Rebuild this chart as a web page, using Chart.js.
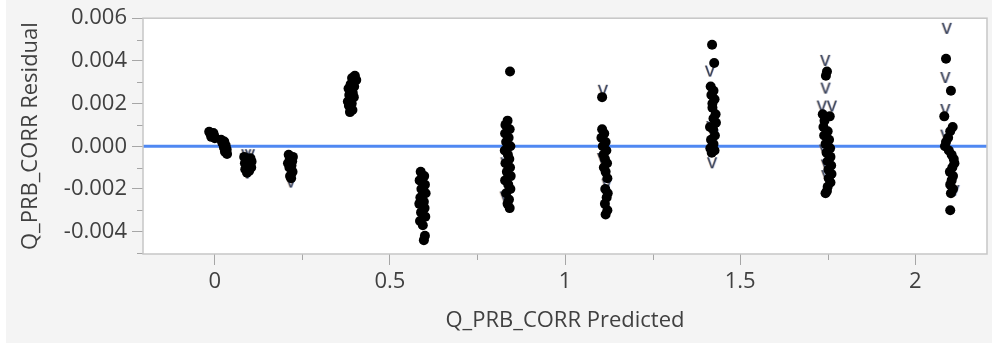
<!DOCTYPE html>
<html>
<head>
<meta charset="utf-8">
<title>Q_PRB_CORR Residual by Predicted</title>
<script src="https://cdn.jsdelivr.net/npm/chart.js@4.4.1/dist/chart.umd.min.js"></script>
<style>
  html, body { margin: 0; padding: 0; background: #ffffff; }
  #wrap { width: 992px; height: 347px; }
</style>
</head>
<body>
<div id="wrap"><canvas id="residualChart" width="992" height="347"></canvas></div>
<script>
// Predicted value / residual pairs, one line per fitted group
const predicted = [
  -0.016, -0.004, -0.012, -0.002, -0.010, 0.000,
  0.018, 0.027, 0.022, 0.031, 0.026, 0.034, 0.029, 0.035,
  0.084, 0.102, 0.090, 0.105, 0.086, 0.099, 0.093, 0.104, 0.087, 0.098, 0.092,
  0.211, 0.223, 0.214, 0.221, 0.209, 0.219, 0.213, 0.222, 0.215, 0.218,
  0.400, 0.392, 0.404, 0.388, 0.398, 0.382, 0.394, 0.384, 0.397, 0.380, 0.391, 0.383, 0.393, 0.386,
  0.588, 0.598, 0.585, 0.600, 0.590, 0.602, 0.587, 0.597, 0.584, 0.599, 0.589, 0.601, 0.586, 0.594, 0.600, 0.597,
  0.843, 0.836, 0.830, 0.842, 0.829, 0.839, 0.832, 0.844, 0.828, 0.837, 0.841, 0.830, 0.843, 0.834, 0.845, 0.829, 0.838, 0.844, 0.832, 0.840, 0.836, 0.842,
  1.106, 1.106, 1.112, 1.104, 1.116, 1.108, 1.118, 1.110, 1.114, 1.120, 1.111, 1.116, 1.121, 1.115, 1.122, 1.119, 1.114, 1.121, 1.116,
  1.420, 1.426, 1.416, 1.424, 1.418, 1.427, 1.421, 1.430, 1.424, 1.431, 1.423, 1.428, 1.417, 1.424, 1.415, 1.427, 1.419, 1.421, 1.414,
  1.748, 1.745, 1.736, 1.756, 1.738, 1.750, 1.740, 1.754, 1.744, 1.757, 1.747, 1.758, 1.750, 1.760, 1.752, 1.761, 1.753, 1.758, 1.750, 1.748, 1.744, 1.741,
  2.088, 2.102, 2.083, 2.107, 2.100, 2.094, 2.088, 2.085, 2.096, 2.104, 2.110, 2.112, 2.106, 2.099, 2.108, 2.104, 2.100, 2.108, 2.102, 2.100
];
const residual = [
  0.00068, 0.00062, 0.00056, 0.00050, 0.00044, 0.00038,
  0.00030, 0.00022, 0.00014, 0.00004, -0.00006, -0.00016, -0.00026, -0.00036,
  -0.00050, -0.00056, -0.00064, -0.00072, -0.00080, -0.00086, -0.00094, -0.00100, -0.00108, -0.00116, -0.00124,
  -0.0004, -0.0005, -0.0006, -0.0007, -0.0008, -0.0009, -0.0010, -0.0012, -0.0014, -0.0015,
  0.0033, 0.0032, 0.0031, 0.0029, 0.0028, 0.0027, 0.0025, 0.0024, 0.0023, 0.0021, 0.0020, 0.0019, 0.0017, 0.0016,
  -0.0012, -0.0014, -0.0016, -0.0018, -0.0020, -0.0022, -0.0024, -0.0026, -0.0027, -0.0029, -0.0031, -0.0033, -0.0035, -0.0037, -0.0042, -0.0044,
  0.0035, 0.0012, 0.0010, 0.0008, 0.0006, 0.0004, 0.0002, 0.0000, -0.0002, -0.0004, -0.0006, -0.0008, -0.0010, -0.0012, -0.0014, -0.0016, -0.0018, -0.0020, -0.0022, -0.0025, -0.0027, -0.0029,
  0.0023, 0.0008, 0.0006, 0.0004, 0.0002, 0.0000, -0.0002, -0.0004, -0.0006, -0.0008, -0.0010, -0.0012, -0.0015, -0.0020, -0.0022, -0.0024, -0.0027, -0.0030, -0.0032,
  0.00476, 0.0039, 0.0028, 0.0026, 0.0024, 0.0022, 0.0020, 0.0015, 0.0013, 0.0011, 0.0008, 0.0005, 0.0003, 0.0001, -0.0001, -0.0002, -0.0003, 0.0018, 0.0009,
  0.0035, 0.0033, 0.0015, 0.0014, 0.0009, 0.0007, 0.0005, 0.0003, 0.0001, -0.0001, -0.0003, -0.0005, -0.0007, -0.0009, -0.0011, -0.0013, -0.0015, -0.0017, -0.0019, -0.0021, -0.0022, 0.0012,
  0.0041, 0.0026, 0.0014, 0.0009, 0.0007, 0.0004, 0.0002, 0.0000, -0.0002, -0.0004, -0.0006, -0.0008, -0.0010, -0.0012, -0.0014, -0.0016, -0.0018, -0.0020, -0.0022, -0.0030
];

// Rows drawn with the "v" marker
const markedPredicted = [
  0.090, 0.100, 0.093,
  0.217,
  0.828, 0.830,
  1.108, 1.119, 1.106,
  1.414, 1.418, 1.424, 1.420,
  1.743, 1.744, 1.733, 1.762, 1.740, 1.745, 1.746,
  2.090, 2.086, 2.086, 2.086, 2.112
];
const markedResidual = [
  -0.00042, -0.00042, -0.00128,
  -0.0017,
  -0.0024, -0.0008,
  0.0026, -0.0018, -0.0006,
  0.0035, 0.0009, 0.0005, -0.0008,
  0.0040, 0.0027, 0.00186, 0.00186, -0.0002, -0.0009, -0.0014,
  0.0055, 0.0032, 0.0017, 0.0005, -0.0021
];

const xTicks = [0, 0.5, 1, 1.5, 2];
const yTicks = [-0.004, -0.002, 0, 0.002, 0.004, 0.006];
const xRange = [-0.205, 2.205];
const yRange = [-0.00505, 0.006];

const labelFont = { family: '"Open Sans", "Noto Sans", sans-serif', size: 22 };
const textColor = '#404040';
const tickColor = '#a6a6a6';

function pairs(xs, ys) {
  return xs.map((x, i) => ({ x: x, y: ys[i] }));
}

// small "v" glyph used as a point style
function makeVMark() {
  const c = document.createElement('canvas');
  c.width = 18;
  c.height = 18;
  const g = c.getContext('2d');
  g.font = '20px "Open Sans", sans-serif';
  g.textAlign = 'center';
  g.textBaseline = 'alphabetic';
  const base = 9 + 5.3;
  g.globalAlpha = 0.45;
  g.fillStyle = '#e0903a';
  g.fillText('v', 8.4, base);
  g.fillStyle = '#5a88dd';
  g.fillText('v', 9.6, base);
  g.globalAlpha = 1;
  g.fillStyle = '#36405a';
  g.fillText('v', 9, base);
  return c;
}

// minor tick halfway between labelled ticks
function midpoints(list) {
  const out = [];
  for (let i = 0; i < list.length - 1; i++) out.push((list[i] + list[i + 1]) / 2);
  return out;
}

const framePlugin = {
  id: 'frame',
  beforeDraw(chart) {
    const { ctx, chartArea: a } = chart;
    ctx.save();
    ctx.fillStyle = '#ffffff';
    ctx.fillRect(0, 0, chart.width, chart.height);
    ctx.fillStyle = '#f4f4f4';
    ctx.fillRect(6, 0, chart.width - 6, 343);
    ctx.fillStyle = '#ffffff';
    ctx.fillRect(a.left, a.top, a.width, a.height);
    ctx.restore();
  },
  afterDraw(chart) {
    const { ctx, chartArea: a } = chart;
    const xs = chart.scales.x, ys = chart.scales.y;
    ctx.save();
    ctx.strokeStyle = tickColor;
    ctx.lineWidth = 1;
    ctx.beginPath();
    midpoints(yTicks).concat([yTicks[0] - 0.001]).forEach(v => {
      if (v < yRange[0] || v > yRange[1]) return;
      const py = Math.round(ys.getPixelForValue(v)) + 0.5;
      ctx.moveTo(a.left - 6, py);
      ctx.lineTo(a.left, py);
    });
    midpoints(xTicks).forEach(v => {
      const px = Math.round(xs.getPixelForValue(v)) + 0.5;
      ctx.moveTo(px, a.bottom);
      ctx.lineTo(px, a.bottom + 6);
    });
    ctx.stroke();
    ctx.strokeStyle = '#c6c6c6';
    ctx.lineWidth = 1.5;
    ctx.strokeRect(a.left, a.top, a.width, a.height);
    ctx.restore();
  }
};

const ctx = document.getElementById('residualChart');
new Chart(ctx, {
  type: 'scatter',
  data: {
    datasets: [
      {
        label: 'Residual',
        data: pairs(predicted, residual),
        pointRadius: 5,
        pointBackgroundColor: '#000000',
        pointBorderWidth: 0,
        order: 1
      },
      {
        label: 'Marked',
        data: pairs(markedPredicted, markedResidual),
        pointStyle: makeVMark(),
        order: 2
      },
      {
        type: 'line',
        label: 'Zero',
        data: [{ x: xRange[0], y: 0 }, { x: xRange[1], y: 0 }],
        borderColor: '#4f88f2',
        borderWidth: 3,
        pointRadius: 0,
        order: 3
      }
    ]
  },
  options: {
    responsive: false,
    animation: false,
    events: [],
    layout: { padding: { top: 12, right: 5, left: 0, bottom: 0 } },
    plugins: {
      legend: { display: false },
      tooltip: { enabled: false }
    },
    scales: {
      x: {
        type: 'linear',
        min: xRange[0],
        max: xRange[1],
        afterBuildTicks: s => { s.ticks = xTicks.map(v => ({ value: v })); },
        afterFit: s => { s.height = 93; },
        ticks: {
          callback: v => String(v),
          font: labelFont,
          color: textColor,
          padding: 4,
          maxRotation: 0,
          autoSkip: false
        },
        grid: { drawOnChartArea: false, drawTicks: true, tickLength: 11, tickColor: tickColor },
        border: { display: false },
        title: {
          display: true,
          text: 'Q_PRB_CORR Predicted',
          font: labelFont,
          color: textColor,
          padding: { top: 0, bottom: 13 }
        }
      },
      y: {
        type: 'linear',
        min: yRange[0],
        max: yRange[1],
        afterBuildTicks: s => { s.ticks = yTicks.map(v => ({ value: v })); },
        afterFit: s => { s.width = 143; },
        ticks: {
          callback: v => v.toFixed(3),
          font: labelFont,
          color: textColor,
          padding: 5,
          autoSkip: false
        },
        grid: { drawOnChartArea: false, drawTicks: true, tickLength: 11, tickColor: tickColor },
        border: { display: false },
        title: {
          display: true,
          text: 'Q_PRB_CORR Residual',
          font: labelFont,
          color: textColor,
          padding: { top: 18, bottom: 0 }
        }
      }
    }
  },
  plugins: [framePlugin]
});
</script>
</body>
</html>
